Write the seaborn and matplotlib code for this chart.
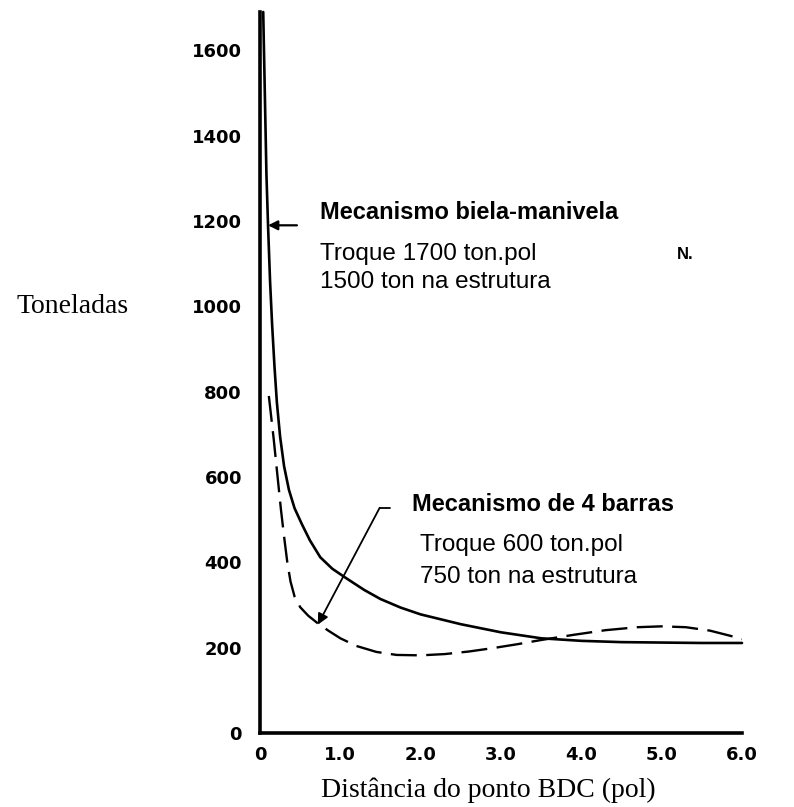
import numpy as np
import pandas as pd
import matplotlib
matplotlib.use("Agg")
import matplotlib.pyplot as plt
import seaborn as sns

# crank-slider (biela-manivela), solid curve
biela_x = [0.04, 0.06, 0.08, 0.10, 0.125, 0.15, 0.18, 0.21, 0.25, 0.30, 0.36, 0.43,
           0.52, 0.62, 0.75, 0.9, 1.08, 1.3, 1.5, 1.75, 2.0, 2.5, 3.0, 3.5, 4.0,
           4.5, 5.0, 5.5, 6.0]
biela_y = [1690, 1500, 1310, 1190, 1060, 960, 860, 775, 695, 625, 570, 527,
           490, 452, 412, 385, 362, 335, 314, 294, 278, 255, 236, 222, 216,
           213, 212, 211, 211]

# four-bar (4 barras), dashed curve
barras_x = [0.11, 0.14, 0.17, 0.2, 0.23, 0.26, 0.3, 0.34, 0.38, 0.43, 0.5, 0.6,
            0.72, 0.85, 1.0, 1.2, 1.45, 1.7, 2.0, 2.3, 2.6, 2.9, 3.2, 3.5, 3.9,
            4.3, 4.7, 5.0, 5.3, 5.6, 5.85, 6.0]
barras_y = [790, 740, 690, 635, 580, 525, 460, 400, 355, 320, 295, 275,
            257, 240, 222, 204, 190, 183, 182, 185, 191, 199, 208, 218, 230,
            241, 248, 250, 248, 240, 228, 220]

xticks = [0, 1, 2, 3, 4, 5, 6]
xtick_labels = ["0", "1.0", "2.0", "3.0", "4.0", "5.0", "6.0"]
yticks = [0, 200, 400, 600, 800, 1000, 1200, 1400, 1600]

sns.set_style("white")
plt.rcParams["font.family"] = ["Liberation Sans", "DejaVu Sans"]
plt.rcParams["text.color"] = "black"
plt.rcParams["axes.labelcolor"] = "black"
plt.rcParams["xtick.color"] = "black"
plt.rcParams["ytick.color"] = "black"

fig = plt.figure(figsize=(7.94, 8.07), dpi=100)
W, H = 794, 807
ax = fig.add_axes([260 / W, 1 - 733 / H, (742 - 260) / W, (733 - 12) / H])

df1 = pd.DataFrame({"x": biela_x, "y": biela_y})
df2 = pd.DataFrame({"x": barras_x, "y": barras_y})
sns.lineplot(data=df1, x="x", y="y", ax=ax, color="black", lw=1.9, clip_on=False)
sns.lineplot(data=df2, x="x", y="y", ax=ax, color="black", lw=1.7)
ax.lines[-1].set_dashes((11, 4))

ax.set_xlim(0, 6.0)
ax.set_ylim(0, 1690)
for s in ["top", "right"]:
    ax.spines[s].set_visible(False)
for s in ["left", "bottom"]:
    ax.spines[s].set_linewidth(2.6)
    ax.spines[s].set_color("black")

ax.set_xticks(xticks)
ax.set_xticklabels(xtick_labels)
ax.set_xticks(np.arange(0.5, 6.0, 1.0), minor=True)
ax.set_yticks(yticks)
ax.set_yticks(np.arange(100, 1700, 200), minor=True)
ax.tick_params(which="both", direction="in", length=8, width=1.3, color="black",
               labelcolor="black")
ax.tick_params(axis="y", pad=13)
ax.tick_params(axis="x", pad=9)
for lab in ax.get_xticklabels() + ax.get_yticklabels():
    lab.set_fontfamily("DejaVu Sans")
    lab.set_fontweight("bold")
    lab.set_fontsize(13)
ax.set_xlabel("")
ax.set_ylabel("")

# axis titles (serif)
fig.text(73 / W, 1 - 307 / H, "Toneladas", family="Liberation Serif", fontsize=20,
         ha="center", va="center")
fig.text(488 / W, 1 - 790 / H, "Distância do ponto BDC (pol)", family="Liberation Serif",
         fontsize=20, ha="center", va="center")

# annotations
ax.text(0.75, 1221, "Mecanismo biela-manivela", fontsize=17, fontweight="bold",
        va="center", ha="left")
ax.text(0.75, 1122, "Troque 1700 ton.pol", fontsize=17.5, va="center", ha="left")
ax.text(0.75, 1056, "1500 ton na estrutura", fontsize=17.5, va="center", ha="left")
ax.text(5.19, 1122, "N.", fontsize=12, fontweight="bold", va="center", ha="left")
ax.annotate("", xy=(0.1, 1190), xytext=(0.46, 1190),
            arrowprops=dict(arrowstyle="-|>", color="black", lw=1.6,
                            mutation_scale=14, shrinkA=0, shrinkB=0))

ax.text(1.89, 535, "Mecanismo de 4 barras", fontsize=17, fontweight="bold",
        va="center", ha="left")
ax.text(1.99, 441, "Troque 600 ton.pol", fontsize=17.5, va="center", ha="left")
ax.text(1.99, 366, "750 ton na estrutura", fontsize=17.5, va="center", ha="left")
ax.plot([1.62, 1.49], [528, 528], color="black", lw=1.3)
ax.annotate("", xy=(0.72, 254), xytext=(1.49, 528),
            arrowprops=dict(arrowstyle="-|>", color="black", lw=1.3,
                            mutation_scale=16, shrinkA=0, shrinkB=0))

fig.savefig("out.png", dpi=100)
